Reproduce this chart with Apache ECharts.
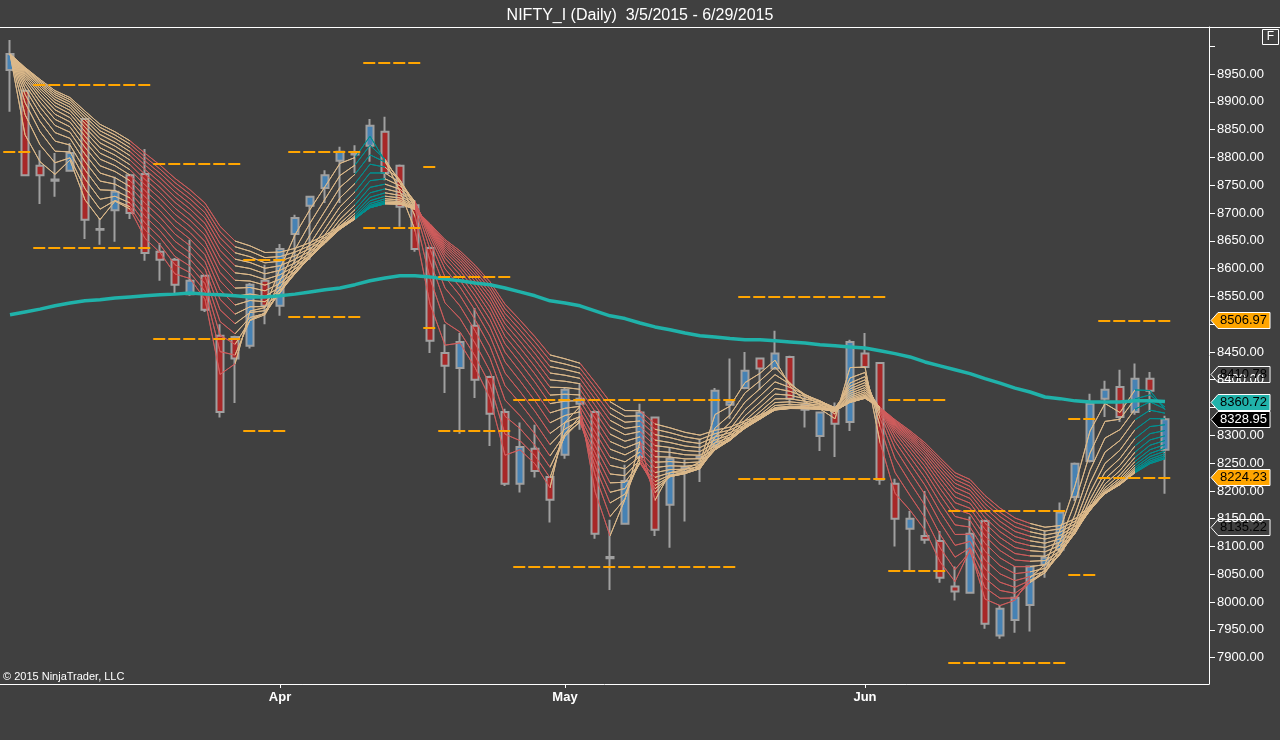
<!DOCTYPE html>
<html>
<head>
<meta charset="utf-8">
<script src="https://cdn.jsdelivr.net/npm/echarts@6/dist/echarts.min.js"></script>
<style>
html,body{margin:0;padding:0;background:#404040;}
#c{width:1280px;height:740px;}
</style>
</head>
<body>
<div id="c"></div>
<script>
// ---------- data ----------
const dates = ['3/5','3/9','3/10','3/11','3/12','3/13','3/16','3/17','3/18','3/19','3/20','3/23','3/24','3/25','3/26','3/27','3/30','3/31',
  '4/1','4/6','4/7','4/8','4/9','4/10','4/13','4/15','4/16','4/17','4/20','4/21','4/22','4/23','4/24','4/27','4/28','4/29','4/30',
  '5/4','5/5','5/6','5/7','5/8','5/11','5/12','5/13','5/14','5/15','5/18','5/19','5/20','5/21','5/22','5/25','5/26','5/27','5/28','5/29',
  '6/1','6/2','6/3','6/4','6/5','6/8','6/9','6/10','6/11','6/12','6/15','6/16','6/17','6/18','6/19','6/22','6/23','6/24','6/25','6/26','6/29'];
const opens = [8957,8920,8785,8760,8776,8869,8671,8705,8768,8770, 8630,8616,8554,8587,8479,8477,8461,8578,8533,8662,
  8713,8745,8794,8807,8821,8846,8785,8714,8637,8448, 8421,8497,8405,8342,8213,8276,8225,8265,8357,8342,
  8081,8141,8261,8332,8175,8243,8261,8279,8355,8385, 8438,8420,8441,8355,8299,8344,8324,8447,8430,8213,
  8132,8119,8110,8028,8017,8146,7940,7968,7995,8067, 8094,8189,8254,8366,8387,8342,8402,8274];
const highs = [9011,8922,8813,8808,8826,8871,8691,8765,8770,8815, 8646,8619,8652,8589,8500,8479,8574,8607,8644,8697,
  8731,8777,8819,8822,8869,8873,8787,8723,8639,8500, 8484,8529,8407,8348,8323,8319,8227,8387,8394,8345,
  8148,8247,8357,8334,8279,8256,8294,8385,8438,8450, 8440,8488,8443,8369,8343,8359,8472,8484,8432,8222,
  8164,8200,8128,8064,8154,8148,7995,8065,8065,8128, 8179,8251,8375,8398,8418,8429,8414,8335];
const lows = [8882,8766,8716,8729,8774,8653,8643,8648,8689,8614, 8578,8556,8551,8522,8332,8358,8456,8500,8515,8607,
  8616,8718,8718,8772,8792,8759,8675,8630,8448,8376, 8303,8367,8281,8209,8197,8224,8143,8258,8310,8114,
  8022,8139,8256,8119,8098,8145,8216,8277,8330,8383, 8382,8418,8357,8314,8272,8261,8308,8421,8211,8100,
  8056,8105,8035,8003,8015,7952,7934,7945,7947,8044, 8089,8182,8251,8333,8324,8337,8342,8195];
const closes = [8986,8768,8768,8758,8808,8688,8670,8738,8700,8628, 8616,8571,8578,8526,8342,8438,8571,8533,8635,8691,
  8729,8768,8810,8805,8857,8772,8711,8635,8470,8425, 8468,8400,8339,8213,8279,8236,8184,8382,8366,8123,
  8079,8218,8341,8130,8258,8241,8259,8380,8360,8416, 8420,8447,8366,8346,8341,8321,8468,8423,8220,8150,
  8150,8112,8044,8019,8123,7961,7988,8008,8064,8080, 8161,8249,8357,8382,8333,8402,8380,8328.95];
// long moving average (thick teal line), read per bar
const longMA = [8517,8522,8527,8533,8538,8542,8544,8547,8549,8551, 8553,8554,8556,8554,8553,8551,8549,8549,8551,8554,
  8558,8562,8565,8571,8578,8583,8587,8587,8585,8581, 8578,8574,8571,8565,8558,8551,8542,8538,8533,8524,
  8515,8510,8502,8495,8490,8484,8479,8477,8474,8472, 8472,8470,8468,8466,8463,8461,8459,8457,8452,8447,
  8441,8432,8425,8418,8411,8402,8394,8385,8378,8369, 8366,8362,8360,8360,8360,8362,8362,8360.72];
// ribbon trend state of the segment ending at each bar: 0 neutral, 1 falling, 2 rising
const ribbonState = [0,0,0,0,0,0,0,0,0, 1,1,1,1,1,1,1, 0,0,0,0,0,0,0,0, 2,2, 0,0, 1,1,1,1,1,1,1,1,1, 0,0, 1,1, 0,0, 1,
  0,0,0,0,0,0,0,0,0,0,0,0,0,0,0, 1,1,1,1,1,1,1,1,1,1, 0,0,0,0,0,0,0, 2,2];
const ribbonPeriods = [2,3,4,5,6,7,8,9,10,11,12,13,14,15,16,17];
// horizontal support / resistance levels (bar index ranges)
const levelStart = [-0.5, 1.5, 9.5, 15.5, 18.5, 23.5, 27.5, 28.5, 33.5, 48.5, 58.5, 62.5, 70.5, 72.5];
const levelEnd   = [ 1.5, 9.5, 15.5, 18.5, 23.5, 27.5, 28.5, 33.5, 48.5, 58.5, 62.5, 70.5, 72.5, 77.5];
const levelUpper = [null, 8930, 8788, 8616, 8810, 8970, 8783, 8585, 8364, 8549, 8364, 8164, 8330, 8506.97];
const levelLower = [8810, 8637, 8474, 8308, 8513, 8673, 8493, 8308, 8064, 8222, 8056, 7891, 8049, 8224.23];
// price markers on the right axis
const tagValues = [8506.97, 8410.78, 8360.72, 8328.95, 8224.23, 8135.22];
const tagFill   = ['#ffa500', 'rgba(0,0,0,0)', '#20b2aa', '#000000', '#ffa500', 'rgba(0,0,0,0)'];
const tagText   = ['#000000', '#000000', '#000000', '#ffffff', '#000000', '#000000'];
const yTicks  = [7900,7950,8000,8050,8100,8150,8200,8250,8300,8350,8400,8450,8500,8550,8600,8650,8700,8750,8800,8850,8900,8950,9000];
const yLabels = [7900,7950,8000,8050,8100,8150,8200,8250,8300,8350,8400,8450,8500,8550,8600,8650,8700,8750,8800,8850,8900,8950];
const monthStarts = [18, 37, 57];
const monthNames = ['Jan','Feb','Mar','Apr','May','Jun','Jul','Aug','Sep','Oct','Nov','Dec'];

// ---------- build ----------
const FONT = "'Liberation Sans', Arial, sans-serif";
const TAN = '#dcb98a', RED = 'rgba(208,92,92,0.9)', TEAL = '#009090';
const stateColor = [TAN, RED, TEAL];

const candleData = dates.map((d, i) => [i, opens[i], closes[i], lows[i], highs[i]]);

function ema(period) {
  const a = 2 / (period + 1);
  const out = [];
  let v = closes[0];
  for (let i = 0; i < closes.length; i++) {
    v = i === 0 ? closes[0] : a * closes[i] + (1 - a) * v;
    out.push([i, v]);
  }
  return out;
}

const pieces = [];
let segStart = 1, cur = ribbonState[1];
for (let i = 2; i <= ribbonState.length; i++) {
  if (i === ribbonState.length || ribbonState[i] !== cur) {
    pieces.push({ gt: (segStart === 1 ? -5 : segStart - 1), lte: (i === ribbonState.length ? 200 : i - 1), color: stateColor[cur] });
    if (i < ribbonState.length) { segStart = i; cur = ribbonState[i]; }
  }
}

const series = [];
series.push({
  type: 'candlestick',
  data: candleData,
  encode: { x: 0, y: [1, 2, 3, 4] },
  barWidth: 7,
  z: 2,
  silent: true,
  itemStyle: {
    color: '#4682b4', color0: '#a82828',
    borderColor: '#a0a0a0', borderColor0: '#a0a0a0', borderColorDoji: '#a0a0a0',
    borderWidth: 2
  }
});
const ribbonIdx = [];
ribbonPeriods.forEach(p => {
  ribbonIdx.push(series.length);
  series.push({
    type: 'line', data: ema(p), symbol: 'none', silent: true, z: 3,
    lineStyle: { width: 1 }
  });
});
const levelLines = [];
levelStart.forEach((s, k) => {
  [levelUpper[k], levelLower[k]].forEach(v => {
    if (v != null) levelLines.push([{ coord: [s + 0.05, v] }, { coord: [levelEnd[k] - 0.05, v] }]);
  });
});
series.push({
  type: 'line', data: longMA.map((v, i) => [i, v]), symbol: 'none', silent: true, z: 4,
  lineStyle: { width: 3.5, color: '#20b2aa' }, itemStyle: { color: '#20b2aa' },
  markLine: {
    silent: true, symbol: ['none', 'none'], animation: false,
    label: { show: false },
    lineStyle: { color: '#ffa500', width: 2, type: [12, 3], cap: 'butt' },
    emphasis: { disabled: true },
    data: levelLines
  }
});

const chart = echarts.init(document.getElementById('c'), null, { renderer: 'canvas' });
chart.setOption({
  backgroundColor: '#404040',
  animation: false,
  textStyle: { fontFamily: FONT },
  title: {
    text: 'NIFTY_I (Daily)  3/5/2015 - 6/29/2015',
    left: 'center', top: 3,
    textStyle: { color: '#ffffff', fontSize: 16, fontWeight: 'normal', fontFamily: FONT }
  },
  grid: { left: 0, right: 71, top: 27, bottom: 56 },
  xAxis: {
    type: 'value', min: -10 / 15, max: 77 + 44 / 15,
    splitLine: { show: false },
    axisLine: { onZero: false, lineStyle: { color: '#ffffff', width: 1 } },
    axisTick: { length: 4, customValues: monthStarts, lineStyle: { color: '#ffffff' } },
    axisLabel: {
      customValues: monthStarts, margin: 7, color: '#ffffff', fontSize: 13, fontWeight: 'bold', fontFamily: FONT,
      formatter: v => monthNames[parseInt(dates[Math.round(v)].split('/')[0], 10) - 1]
    }
  },
  yAxis: {
    type: 'value', position: 'right', min: 7852.7, max: 9034.5, scale: true,
    splitLine: { show: false },
    axisLine: { show: true, onZero: false, lineStyle: { color: '#ffffff', width: 1 } },
    axisTick: { show: true, length: 6, customValues: yTicks, lineStyle: { color: '#ffffff' } },
    axisLabel: {
      customValues: yLabels, margin: 8, color: '#ffffff', fontSize: 13, fontFamily: FONT,
      formatter: v => v.toFixed(2)
    }
  },
  visualMap: {
    type: 'piecewise', show: false, dimension: 0, seriesIndex: ribbonIdx,
    pieces: pieces, outOfRange: { color: TAN }
  },
  series: series
});

// overlays positioned through the chart's own scales
const graphics = [
  { type: 'line', shape: { x1: 0, y1: 27.5, x2: 1280, y2: 27.5 }, style: { stroke: '#ffffff', lineWidth: 1 }, z: 50 },
  { type: 'rect', shape: { x: 1262.5, y: 29.5, width: 16, height: 15 }, style: { fill: 'rgba(0,0,0,0)', stroke: '#ffffff', lineWidth: 1 }, z: 50 },
  { type: 'text', x: 1270.5, y: 37, style: { text: 'F', fill: '#ffffff', font: '12px ' + FONT, align: 'center', verticalAlign: 'middle' }, z: 51 },
  { type: 'text', x: 3, y: 677, style: { text: '\u00a9 2015 NinjaTrader, LLC', fill: '#ffffff', font: '11px ' + FONT, verticalAlign: 'middle' }, z: 51 }
];
tagValues.forEach((v, k) => {
  const y = Math.round(chart.convertToPixel({ yAxisIndex: 0 }, v)) + 0.5;
  graphics.push({
    type: 'polygon',
    shape: { points: [[1211, y], [1218, y - 8], [1270, y - 8], [1270, y + 8], [1218, y + 8]] },
    style: { fill: tagFill[k], stroke: '#ffffff', lineWidth: 1 }, z: 100 + k * 2
  });
  graphics.push({
    type: 'text', x: 1220, y: y,
    style: { text: v.toFixed(2), fill: tagText[k], font: '13px ' + FONT, verticalAlign: 'middle' },
    z: 101 + k * 2
  });
});
chart.setOption({ graphic: graphics });
</script>
</body>
</html>
